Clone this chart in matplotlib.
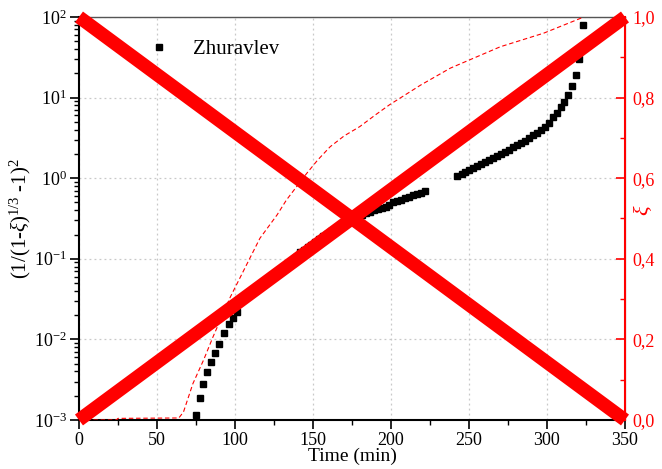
import matplotlib
matplotlib.use("Agg")
import matplotlib.pyplot as plt
from matplotlib.ticker import MultipleLocator, FuncFormatter, LogLocator

plt.rcParams['font.family'] = ['Liberation Serif', 'DejaVu Serif']
plt.rcParams['mathtext.fontset'] = 'custom'
plt.rcParams['mathtext.rm'] = 'Liberation Serif'
plt.rcParams['mathtext.it'] = 'Liberation Serif:italic'

# Zhuravlev linearisation, three measured segments
time_zh = [75.0, 77.5, 79.5, 82.0, 84.4, 87.0, 89.7, 93.0, 96.2, 98.7, 101.3,
           104.0, 106.5, 109.0, 111.5, 114.0, 116.5, 119.0, 121.5, 124.0,
           126.5, 129.0, 131.5, 134.0, 136.5, 139.0,
           141.5, 144.0, 146.5, 149.0, 151.5, 154.0, 156.5, 159.0, 161.5,
           164.0, 166.5, 169.0, 171.5, 174.0, 176.5, 179.0, 181.5, 184.0,
           186.5, 189.0, 191.5, 194.0, 196.5, 199.0, 201.5, 204.0, 206.5,
           209.0, 211.5, 214.0, 216.5, 219.0, 221.5,
           242.6, 245.2, 247.7, 250.3, 252.8, 255.4, 257.9, 260.5, 263.0,
           265.6, 268.1, 270.7, 273.3, 275.8, 278.4, 281.0, 283.5, 286.0,
           288.7, 291.2, 293.8, 296.3, 299.0, 301.5, 304.0, 306.4, 309.0,
           311.0, 313.7, 315.8, 318.3, 320.7, 323.0]
zh_values = [1.15e-3, 1.87e-3, 2.8e-3, 3.9e-3, 5.2e-3, 6.8e-3, 8.8e-3, 1.2e-2,
             1.56e-2, 1.84e-2, 2.19e-2,
             0.030, 0.033, 0.036, 0.040, 0.044, 0.048, 0.052, 0.057, 0.062,
             0.067, 0.073, 0.080, 0.087, 0.095, 0.105,
             0.12, 0.13, 0.14, 0.15, 0.16, 0.175, 0.19, 0.205, 0.22,
             0.235, 0.25, 0.27, 0.285, 0.30, 0.32, 0.335, 0.35, 0.365,
             0.38, 0.40, 0.415, 0.43, 0.445, 0.46, 0.50, 0.52, 0.54,
             0.56, 0.58, 0.61, 0.635, 0.66, 0.69,
             1.07, 1.13, 1.19, 1.26, 1.33, 1.41, 1.49, 1.57, 1.66,
             1.76, 1.87, 2.0, 2.11, 2.24, 2.42, 2.56, 2.75, 2.92,
             3.16, 3.39, 3.67, 3.98, 4.36, 4.9, 5.7, 6.5, 7.6,
             8.8, 10.9, 13.9, 19.0, 30.0, 79.0]

# conversion degree xi
time_xi = [0, 24, 25, 64, 67, 73, 80, 86, 97, 110, 116, 127, 133, 146, 153,
           161, 170, 180, 190, 199, 219, 238, 270, 298, 323]
xi_values = [0.0, 0.0, 0.004, 0.005, 0.02, 0.09, 0.15, 0.207, 0.305, 0.405,
             0.451, 0.509, 0.546, 0.612, 0.645, 0.678, 0.705, 0.728, 0.757,
             0.782, 0.831, 0.873, 0.926, 0.96, 0.999]

cross_x = [0, 350]
cross_down = [1.0, 0.0]
cross_up = [0.0, 1.0]

fig = plt.figure(figsize=(6.62, 4.69), dpi=100)
ax = fig.add_axes([0.1193, 0.1045, 0.8248, 0.8593])
ax2 = ax.twinx()

ax.plot(time_zh, zh_values, 's', color='black', ms=4.3, label='Zhuravlev')
ax.set_yscale('log')
ax.set_xlim(0, 350)
ax.set_ylim(1e-3, 1e2)
ax.xaxis.set_major_locator(MultipleLocator(50))
ax.xaxis.set_minor_locator(MultipleLocator(25))
ax.yaxis.set_major_locator(LogLocator(base=10, numticks=10))
ax.yaxis.set_minor_locator(LogLocator(base=10, subs=range(2, 10), numticks=20))
ax.grid(True, which='major', color='#c8c8c8', linestyle=(0, (1.5, 2.5)), lw=0.9)
ax.tick_params(axis='both', which='major', direction='out', length=6.5,
               width=1.2, labelsize=13, pad=2)
ax.tick_params(axis='both', which='minor', direction='out', length=3.5, width=1.0)
ax.set_xlabel('Time (min)', fontsize=14, labelpad=-1)
ax.set_ylabel(r'(1/(1-$\xi$)$^{1/3}$ -1)$^2$', fontsize=15, labelpad=1)
ax.spines['left'].set_linewidth(1.5)
ax.spines['bottom'].set_linewidth(1.5)
ax.spines['top'].set_color('#555555')
ax.spines['top'].set_linewidth(1.0)
ax.legend(loc='upper left', bbox_to_anchor=(0.09, 0.99), frameon=False,
          fontsize=15, handletextpad=1.0, handlelength=1.2)

ax2.plot(time_xi, xi_values, color='red', lw=0.8, linestyle=(0, (4, 2.5)))
ax2.plot(cross_x, cross_down, color='red', lw=9.7, solid_capstyle='butt',
         clip_on=False, zorder=5)
ax2.plot(cross_x, cross_up, color='red', lw=9.7, solid_capstyle='butt',
         clip_on=False, zorder=5)
ax2.set_ylim(0, 1.0)
ax2.yaxis.set_major_locator(MultipleLocator(0.2))
ax2.yaxis.set_minor_locator(MultipleLocator(0.1))
ax2.yaxis.set_major_formatter(FuncFormatter(lambda v, p: f'{v:.1f}'.replace('.', ',')))
ax2.tick_params(axis='y', which='major', direction='in', length=6.5, width=1.2,
                colors='red', labelsize=13, pad=5)
ax2.tick_params(axis='y', which='minor', direction='in', length=3.5, width=1.0,
                colors='red')
ax2.spines['right'].set_color('red')
ax2.spines['right'].set_linewidth(1.5)
ax2.spines['top'].set_visible(False)
ax2.spines['left'].set_visible(False)
ax2.spines['bottom'].set_visible(False)
ax2.set_ylabel(r'$\xi$', color='red', fontsize=16)
ax2.yaxis.set_label_coords(1.012, 0.52)

fig.savefig('out.png', dpi=100)
